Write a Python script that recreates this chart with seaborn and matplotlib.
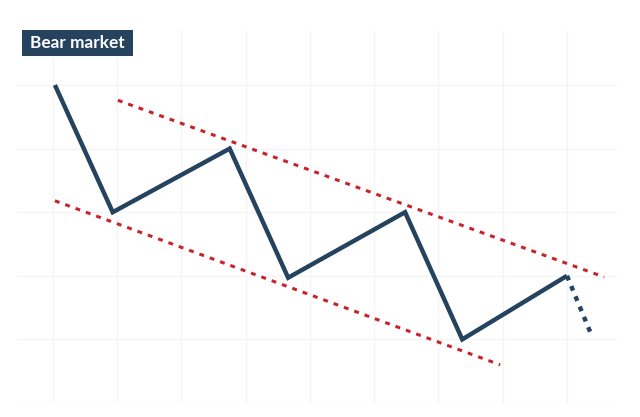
import matplotlib
matplotlib.use("Agg")
import matplotlib.pyplot as plt
from matplotlib.patches import Rectangle
import seaborn as sns
import pandas as pd

sns.set_theme(style="white")
plt.rcParams['font.family'] = ['Lato', 'DejaVu Sans']

# Price path (grid units)
price_x = [0.03, 0.93, 2.75, 3.66, 5.48, 6.37, 8.0]
price_y = [5.0, 3.0, 4.0, 1.97, 3.0, 1.0, 2.0]
# Projected continuation
proj_x = [8.0, 8.36]
proj_y = [2.0, 1.12]
# Upper resistance trendline
upper_x = [1.01, 8.58]
upper_y = [4.76, 1.98]
# Lower support trendline
lower_x = [0.03, 6.96]
lower_y = [3.18, 0.6]

title = "Bear market"

navy = "#25425f"
red = "#c8232b"

fig = plt.figure(figsize=(6.4, 4.17), dpi=100)
ax = fig.add_axes([17/640, 14/417, 601/640, 373/417])

price = pd.DataFrame({"x": price_x, "y": price_y})
proj = pd.DataFrame({"x": proj_x, "y": proj_y})
upper = pd.DataFrame({"x": upper_x, "y": upper_y})
lower = pd.DataFrame({"x": lower_x, "y": lower_y})

sns.lineplot(data=upper, x="x", y="y", ax=ax, sort=False, color=red,
             linewidth=2.2, dashes=False, linestyle=(0, (1.6, 2.0)))
sns.lineplot(data=lower, x="x", y="y", ax=ax, sort=False, color=red,
             linewidth=2.2, dashes=False, linestyle=(0, (1.6, 2.0)))
sns.lineplot(data=price, x="x", y="y", ax=ax, sort=False, color=navy,
             linewidth=3.2, solid_joinstyle="miter", solid_capstyle="butt")
sns.lineplot(data=proj, x="x", y="y", ax=ax, sort=False, color=navy,
             linewidth=3.2, dashes=False, linestyle=(0, (1.1, 1.4)))

ax.set_xlim(-0.56, 8.794)
ax.set_ylim(0, 5.865)
ax.set_xticks(range(0, 9))
ax.set_yticks(range(0, 6))
ax.grid(True, color="#f4f4f4", linewidth=0.9)
ax.tick_params(labelbottom=False, labelleft=False, length=0)
ax.set_xlabel("")
ax.set_ylabel("")
for s in ax.spines.values():
    s.set_visible(False)

fig.patches.append(Rectangle((22/640, 1 - 56/417), 111/640, 26/417,
                             transform=fig.transFigure, facecolor=navy,
                             edgecolor="none"))
fig.text(77.5/640, 1 - 43.5/417, title, color="white", fontsize=12.4,
         fontweight="bold", ha="center", va="center")

fig.savefig("out.png", dpi=100)
